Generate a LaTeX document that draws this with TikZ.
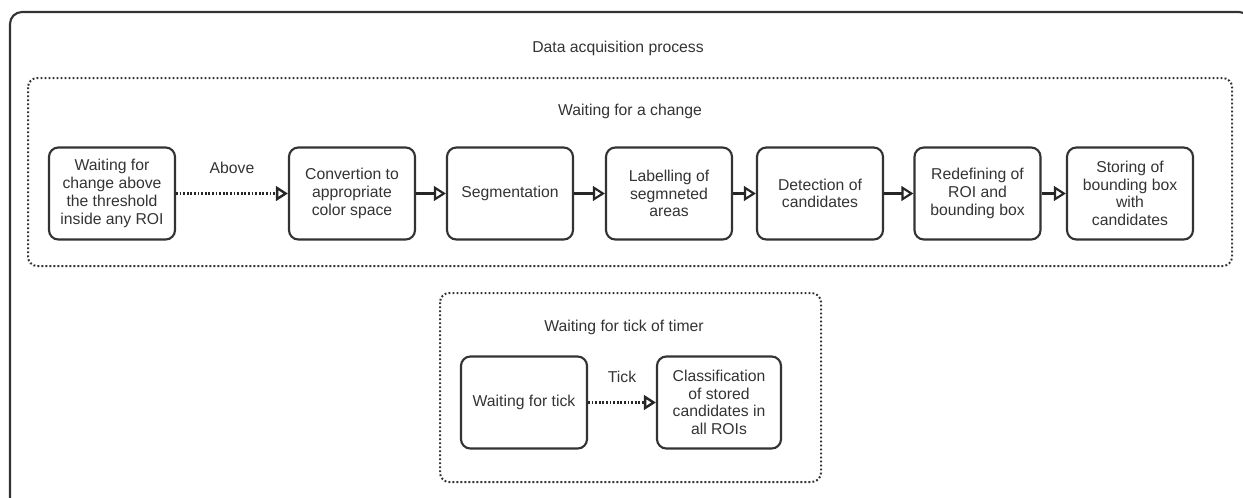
\documentclass[tikz,border=0pt]{standalone}
\usepackage{fontspec}
\setmainfont{Liberation Sans}
\usetikzlibrary{arrows.meta}

\begin{document}
\begin{tikzpicture}[x=0.75pt,y=-0.75pt,
		every node/.style={font=\fontsize{11.8}{13.3}\selectfont, text=black!80},
		stage/.style={draw=black!80, line width=1.6pt, rounded corners=7pt, minimum width=94.5pt, minimum height=69pt, align=center, inner sep=0pt},
		group/.style={draw=black!80, line width=1.5pt, dash pattern=on 1.4pt off 1.6pt, rounded corners=7pt},
		flow/.style={draw=black!85, line width=1.6pt, -{Triangle[fill=white, length=9pt, width=11pt]}},
		trigger/.style={flow, line width=1.8pt, dash pattern=on 1.3pt off 1.4pt}]
			\useasboundingbox (0,0) rectangle (1243,497);
			\clip (0,0) rectangle (1243,497);
			\pgfmathsetmacro{\rowa}{193.5}
			\pgfmathsetmacro{\rowb}{402.5}
			% outer frame and the two waiting loops
			\draw[draw=black!80, line width=1.6pt, rounded corners=9pt] (10,12) rectangle (1251,530);
			\node (acq) at (618,48) {Data acquisition process};
			\draw[group] (28,78) rectangle (1232,266);
			\node (change) at (630,111) {Waiting for a change};
			\draw[group] (440,293) rectangle (821,482);
			\node (timer) at (624,327) {Waiting for tick of timer};
			% stages
			\node[stage] (wait) at (112,\rowa) {Waiting for\\change above\\the threshold\\inside any ROI};
			\node[stage] (conv) at (352,\rowa) {Convertion to\\appropriate\\color space};
			\node[stage] (seg) at (510,\rowa) {Segmentation};
			\node[stage] (label) at (669,\rowa) {Labelling of\\segmneted\\areas};
			\node[stage] (detect) at (820,\rowa) {Detection of\\candidates};
			\node[stage] (redef) at (977.5,\rowa) {Redefining of\\ROI and\\bounding box};
			\node[stage] (store) at (1130,\rowa) {Storing of\\bounding box\\with\\candidates};
			\node[stage] (tick) at (524,\rowb) {Waiting for tick};
			\node[stage, minimum width=93pt] (classify) at (719,\rowb) {Classification\\of stored\\candidates in\\all ROIs};
			% transitions
			\draw[trigger] (wait) -- node[above=11pt] {Above} (conv);
			\foreach \a/\b in {conv/seg, seg/label, label/detect, detect/redef, redef/store}
				\draw[flow] (\a) -- (\b);
			\draw[trigger] (tick) -- node[above=11pt] {Tick} (classify);
		\end{tikzpicture}
\end{document}
